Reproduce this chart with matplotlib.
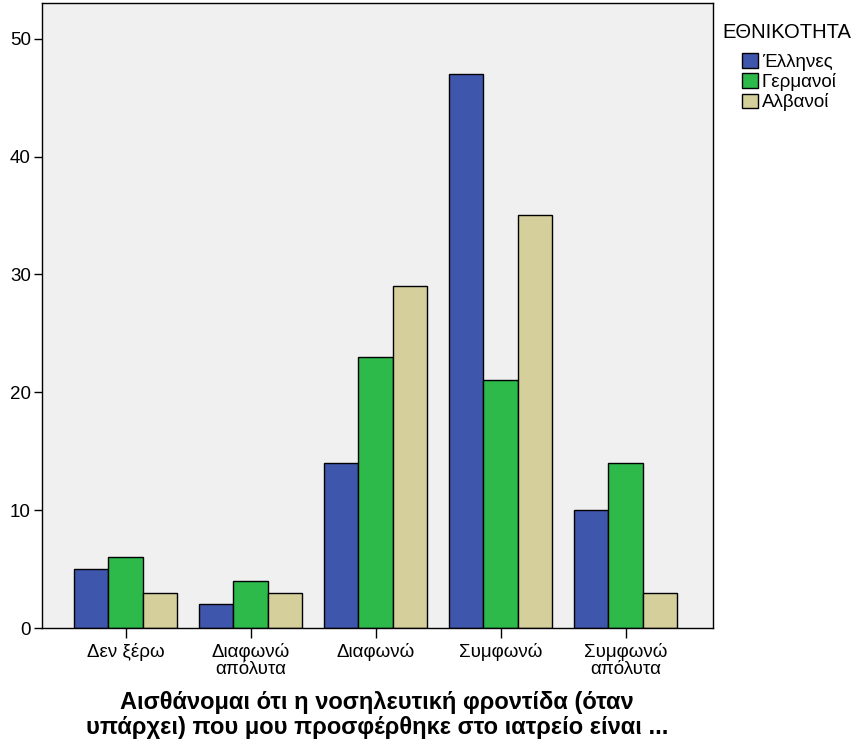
import numpy as np
import matplotlib
matplotlib.use("Agg")
import matplotlib.pyplot as plt
from matplotlib.patches import Patch

plt.rcParams['font.family'] = ['Liberation Sans', 'DejaVu Sans']

# data
categories = ['Δεν ξέρω', 'Διαφωνώ\nαπόλυτα', 'Διαφωνώ', 'Συμφωνώ', 'Συμφωνώ\nαπόλυτα']
series_names = ['Έλληνες', 'Γερμανοί', 'Αλβανοί']
greeks = [5, 2, 14, 47, 10]
germans = [6, 4, 23, 21, 14]
albanians = [3, 3, 29, 35, 3]
colors = ['#3F56AD', '#2EB94B', '#D5CF9B']

fig = plt.figure(figsize=(8.55, 7.42), dpi=100)
ax = fig.add_axes([0.049, 0.1536, 0.785, 0.842])
ax.set_facecolor('#F0F0F0')

x = np.arange(len(categories))
w = 0.275
for i, vals in enumerate([greeks, germans, albanians]):
    ax.bar(x + (i - 1) * w, vals, width=w, color=colors[i],
           edgecolor='black', linewidth=1.0, zorder=2)

ax.set_xlim(-0.67, 4.7)
ax.set_ylim(0, 53)
ax.set_yticks([0, 10, 20, 30, 40, 50])
ax.set_xticks(x)
ax.set_xticklabels(categories, fontsize=13.5, linespacing=1.0)
ax.tick_params(axis='y', labelsize=13.5, length=6, width=1, pad=2)
ax.tick_params(axis='x', length=7, width=1, pad=4)
for s in ax.spines.values():
    s.set_linewidth(1)

# axis title placed under the tick labels
fig.text(377 / 855, 1 - 715 / 742,
         'Αισθάνομαι ότι η νοσηλευτική φροντίδα (όταν\nυπάρχει) που μου προσφέρθηκε στο ιατρείο είναι ...',
         fontsize=17, fontweight='bold', ha='center', va='center', linespacing=1.15)

# legend
fig.text(722 / 855, 1 - 32 / 742, 'ΕΘΝΙΚΟΤΗΤΑ', fontsize=14.5, ha='left', va='center')
handles = [Patch(facecolor=c, edgecolor='black', label=n) for c, n in zip(colors, series_names)]
leg = fig.legend(handles=handles, loc='upper left',
                 bbox_to_anchor=(742 / 855, 1 - 53 / 742), frameon=False, fontsize=13.5,
                 handlelength=0.85, handleheight=0.85, borderpad=0, borderaxespad=0,
                 handletextpad=0.2, labelspacing=0.12)

fig.savefig('out.png', dpi=100)
